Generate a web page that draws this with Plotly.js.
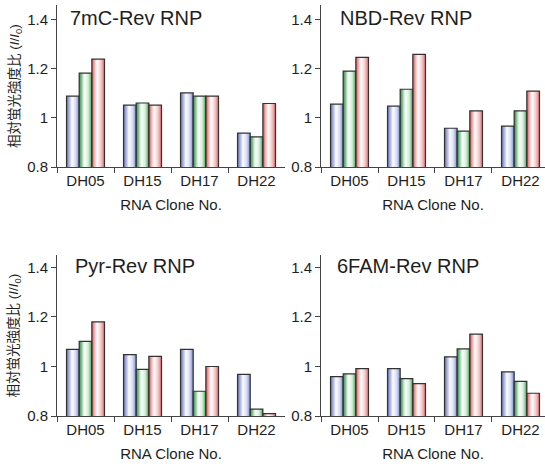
<!DOCTYPE html>
<html>
<head>
<meta charset="utf-8">
<script src="https://cdn.plot.ly/plotly-3.0.1.min.js"></script>
<style>html,body{margin:0;padding:0;background:#fff;}#chart{width:545px;height:464px;}</style>
</head>
<body>
<div id="chart"></div>
<script>
// ---- data ----
const categories = ['DH05', 'DH15', 'DH17', 'DH22'];
const panelTitles = ['7mC-Rev RNP', 'NBD-Rev RNP', 'Pyr-Rev RNP', '6FAM-Rev RNP'];

const mc7Blue  = [1.089, 1.052, 1.102, 0.938];
const mc7Green = [1.183, 1.061, 1.089, 0.923];
const mc7Red   = [1.240, 1.052, 1.089, 1.059];

const nbdBlue  = [1.056, 1.048, 0.958, 0.967];
const nbdGreen = [1.191, 1.117, 0.946, 1.029];
const nbdRed   = [1.247, 1.259, 1.029, 1.109];

const pyrBlue  = [1.069, 1.048, 1.069, 0.968];
const pyrGreen = [1.101, 0.988, 0.900, 0.828];
const pyrRed   = [1.180, 1.041, 1.000, 0.810];

const famBlue  = [0.959, 0.991, 1.039, 0.978];
const famGreen = [0.970, 0.951, 1.071, 0.940];
const famRed   = [0.991, 0.931, 1.131, 0.892];

const yTickVals = [0.8, 1, 1.2, 1.4];
const yTickText = ['0.8', '1', '1.2', '1.4'];
const xTitle = 'RNA Clone No.';
const yTitle = '相対蛍光強度比 (<i>I</i>/<i>I</i><sub>0</sub>)';

// ---- styling ----
const FONT = 'Liberation Sans, Arial, Noto Sans CJK JP, sans-serif';
const TXT = '#1e1e1e';
const AX = '#444';
const BAR_W = 0.222;
const OFFSETS = [-0.333, -0.111, 0.111];
const SLICES = 14;
// gradient stops: [position, rgb]
const GRADS = [
  [[0, [45, 62, 160]], [0.42, [255, 255, 255]], [0.72, [205, 214, 242]], [1, [90, 110, 195]]],
  [[0, [20, 135, 45]], [0.42, [255, 255, 255]], [0.72, [200, 234, 206]], [1, [60, 160, 80]]],
  [[0, [210, 45, 50]], [0.42, [255, 255, 255]], [0.72, [246, 200, 200]], [1, [215, 70, 72]]]
];
function gradColor(stops, t) {
  for (let i = 0; i < stops.length - 1; i++) {
    const [p0, c0] = stops[i], [p1, c1] = stops[i + 1];
    if (t >= p0 && t <= p1) {
      const f = (t - p0) / (p1 - p0);
      const c = c0.map((v, k) => Math.round(v + (c1[k] - v) * f));
      return 'rgb(' + c.join(',') + ')';
    }
  }
  return 'rgb(' + stops[stops.length - 1][1].join(',') + ')';
}

const panels = [
  {series: [mc7Blue, mc7Green, mc7Red], xa: 'x',  ya: 'y'},
  {series: [nbdBlue, nbdGreen, nbdRed], xa: 'x2', ya: 'y2'},
  {series: [pyrBlue, pyrGreen, pyrRed], xa: 'x3', ya: 'y3'},
  {series: [famBlue, famGreen, famRed], xa: 'x4', ya: 'y4'}
];

const traces = [];
panels.forEach(p => {
  p.series.forEach((vals, si) => {
    const sw = BAR_W / SLICES;
    for (let k = 0; k < SLICES; k++) {
      traces.push({
        type: 'bar', x: categories, y: vals, xaxis: p.xa, yaxis: p.ya,
        offset: OFFSETS[si] + k * sw, width: sw * 1.05,
        marker: {color: gradColor(GRADS[si], (k + 0.5) / SLICES), line: {width: 0}},
        hoverinfo: 'skip', showlegend: false
      });
    }
    traces.push({
      type: 'bar', x: categories, y: vals, xaxis: p.xa, yaxis: p.ya,
      offset: OFFSETS[si], width: BAR_W,
      marker: {color: 'rgba(0,0,0,0)', line: {color: '#333', width: 1.2}},
      hoverinfo: 'skip', showlegend: false
    });
  });
});

function xAxis(domain, anchor, range) {
  return {
    domain: domain, anchor: anchor, type: 'category', range: range,
    showline: true, linecolor: AX, linewidth: 1, ticks: 'outside', ticklen: 5,
    tickcolor: AX, tickson: 'boundaries', showgrid: false, zeroline: false,
    tickfont: {family: FONT, size: 15, color: TXT},
    title: {text: xTitle, font: {family: FONT, size: 15, color: TXT}, standoff: 11},
    fixedrange: true
  };
}
function yAxis(domain, anchor, range) {
  return {
    domain: domain, anchor: anchor, range: range,
    tickvals: yTickVals, ticktext: yTickText,
    showline: true, linecolor: AX, linewidth: 1, ticks: 'outside', ticklen: 5,
    tickcolor: AX, showgrid: false, zeroline: false,
    tickfont: {family: FONT, size: 15, color: TXT}, fixedrange: true
  };
}

const topY = [0.640, 0.989], botY = [0.1034, 0.4504];
const leftX = [0.1046, 0.523], rightX = [0.589, 1.0];

const annotations = [];
const titleX = [0.048, 0.076, 0.07, 0.0625];
['x', 'x2', 'x3', 'x4'].forEach((xa, i) => {
  annotations.push({
    text: panelTitles[i], xref: xa + ' domain', yref: (i === 0 ? 'y' : 'y' + (i + 1)) + ' domain',
    x: titleX[i], y: 1, xanchor: 'left', yanchor: 'middle', yshift: i < 2 ? -13 : -11,
    showarrow: false, font: {family: FONT, size: 20, color: TXT}
  });
});
[topY, botY].forEach(d => {
  annotations.push({
    text: yTitle, xref: 'paper', yref: 'paper', x: 15 / 545, y: (d[0] + d[1]) / 2,
    textangle: -90, showarrow: false, xanchor: 'center', yanchor: 'middle',
    font: {family: FONT, size: 13.5, color: TXT}
  });
});

const layout = {
  width: 545, height: 464,
  margin: {l: 0, r: 0, t: 0, b: 0},
  paper_bgcolor: '#fff', plot_bgcolor: '#fff',
  barmode: 'overlay', showlegend: false,
  font: {family: FONT, color: TXT},
  xaxis:  xAxis(leftX, 'y', [-0.5, 3.5]),
  yaxis:  yAxis(topY, 'x', [0.8, 1.46]),
  xaxis2: xAxis(rightX, 'y2', [-0.5, 3.43]),
  yaxis2: yAxis(topY, 'x2', [0.8, 1.46]),
  xaxis3: xAxis(leftX, 'y3', [-0.5, 3.5]),
  yaxis3: yAxis(botY, 'x3', [0.8, 1.45]),
  xaxis4: xAxis(rightX, 'y4', [-0.5, 3.43]),
  yaxis4: yAxis(botY, 'x4', [0.8, 1.45]),
  annotations: annotations
};

Plotly.newPlot('chart', traces, layout, {staticPlot: true, displayModeBar: false});
</script>
</body>
</html>
